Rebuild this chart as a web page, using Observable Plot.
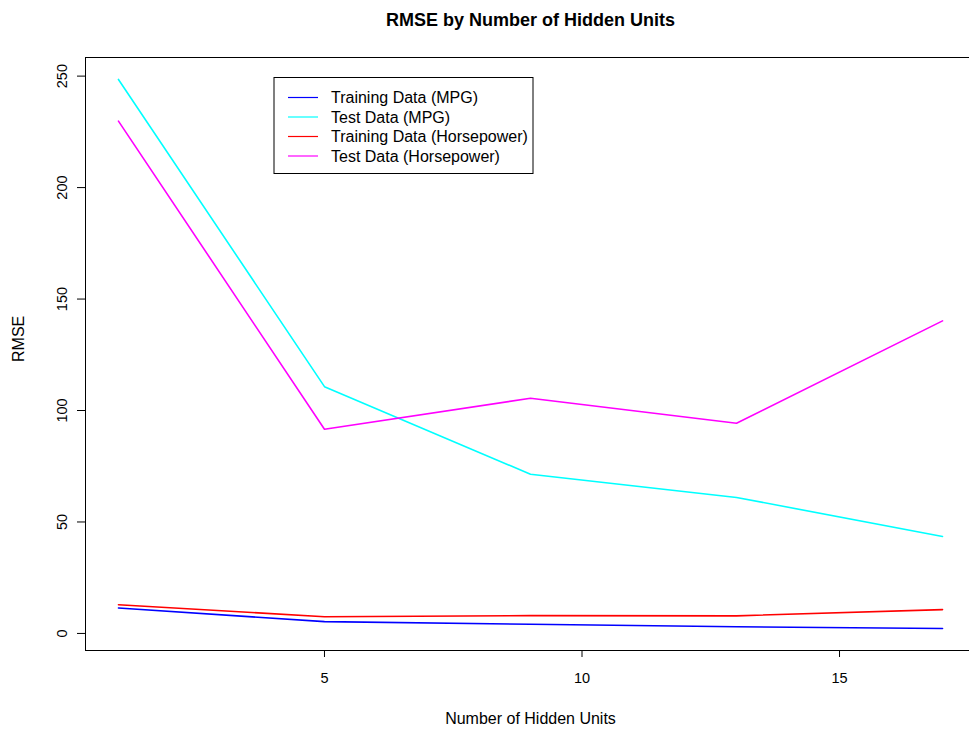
<!DOCTYPE html>
<html><head><meta charset="utf-8">
<script src="https://cdn.jsdelivr.net/npm/d3@7"></script>
<script src="https://cdn.jsdelivr.net/npm/@observablehq/plot@0.6"></script>
<style>html,body{margin:0;padding:0;overflow:hidden;background:#fff} #chart{width:969px;height:730px;overflow:hidden;position:relative} #chart svg{max-width:none !important}</style>
</head><body><div id="chart"></div>
<script>
const hiddenUnits = [1, 5, 9, 13, 17];
const trainMPG = [11.4, 5.3, 4.1, 3.0, 2.2];
const testMPG = [248.5, 110.7, 71.4, 61.0, 43.5];
const trainHP = [12.9, 7.5, 8.0, 7.9, 10.7];
const testHP = [229.8, 91.6, 105.5, 94.3, 140.2];
const seriesNames = ["Training Data (MPG)", "Test Data (MPG)", "Training Data (Horsepower)", "Test Data (Horsepower)"];
const seriesColors = ["#0000ff", "#00ffff", "#ff0000", "#ff00ff"];
const yTicks = [0, 50, 100, 150, 200, 250];
const xTicks = [5, 10, 15];
const titleText = "RMSE by Number of Hidden Units";
const xLabel = "Number of Hidden Units";
const yLabel = "RMSE";

const seriesValues = [trainMPG, testMPG, trainHP, testHP];
const data = seriesNames.flatMap((s, i) => hiddenUnits.map((h, j) => ({series: s, x: h, y: seriesValues[i][j]})));

const font = "'Liberation Sans', Arial, Helvetica, sans-serif";
const chart = Plot.plot({
  width: 976, height: 730,
  marginLeft: 85, marginRight: 1, marginTop: 57, marginBottom: 80,
  style: {fontFamily: font, fontSize: "14.5px", background: "white", color: "#000", maxWidth: "none"},
  x: {domain: [0.36, 17.64]},
  y: {domain: [-7.65, 258.35]},
  color: {domain: seriesNames, range: seriesColors},
  marks: [
    Plot.frame({stroke: "#000", strokeWidth: 1}),
    Plot.axisX({ticks: xTicks, tickSize: 7, tickPadding: 15, label: null, fontSize: 14.5, strokeWidth: 1}),
    Plot.axisY({ticks: yTicks, tickSize: 8, tickRotate: -90, tickPadding: 11, label: null, fontSize: 14.5, strokeWidth: 1}),
    Plot.line(data, {x: "x", y: "y", z: "series", stroke: "series", strokeWidth: 1.6}),
    Plot.text([titleText], {frameAnchor: "top", dy: -37, text: d => d, fontSize: 18, fontWeight: "bold", lineAnchor: "middle"}),
    Plot.text([xLabel], {frameAnchor: "bottom", dy: 68, text: d => d, fontSize: 16, lineAnchor: "middle"}),
    Plot.text([yLabel], {frameAnchor: "left", dx: -67, dy: 8, text: d => d, fontSize: 16, rotate: -90, lineAnchor: "middle"})
  ]
});
document.getElementById("chart").appendChild(chart);

// legend
const svg = d3.select(chart);
const lg = svg.append("g").attr("font-family", font).attr("font-size", 16).attr("text-anchor", "start");
lg.append("rect").attr("x", 274).attr("y", 77.5).attr("width", 259).attr("height", 96).attr("fill", "white").attr("stroke", "#000");
seriesNames.forEach((s, i) => {
  const yy = 97.5 + i * 19.5;
  lg.append("line").attr("x1", 288).attr("x2", 318).attr("y1", yy).attr("y2", yy).attr("stroke", seriesColors[i]).attr("stroke-width", 1.2);
  lg.append("text").attr("x", 331).attr("y", yy).attr("dy", "0.35em").attr("text-anchor", "start").text(s);
});
</script></body></html>
